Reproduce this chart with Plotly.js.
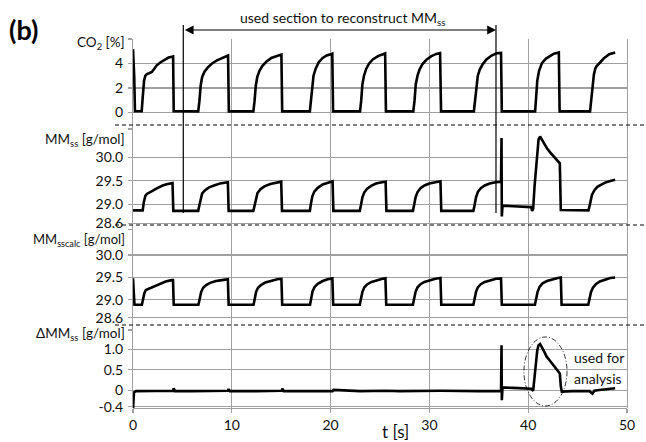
<!DOCTYPE html>
<html>
<head>
<meta charset="utf-8">
<script src="https://cdn.plot.ly/plotly-3.0.1.min.js"></script>
<style>html,body{margin:0;padding:0;background:#fff;}#chart{width:646px;height:442px;}</style>
</head>
<body>
<div id="chart"></div>
<script>
// ---------- data ----------
const xTicks = [0, 10, 20, 30, 40, 50];
const sectionStart = 5.09;
const sectionEnd = 36.74;
const analysisT = [39.57, 43.93];
const analysisY = [-0.38, 1.30];

const t_co2 = [0.0,0.12,0.2,0.88,1.0,1.12,1.25,1.45,1.65,1.9,2.1,2.4,2.8,3.2,3.6,3.95,4.06,4.12,
6.6,6.72,6.85,7.0,7.25,7.6,8.0,8.5,9.0,9.5,9.62,9.7,
12.18,12.3,12.43,12.58,12.8,13.1,13.5,14.0,14.5,14.95,15.02,15.1,
17.9,18.0,18.12,18.27,18.5,18.8,19.2,19.6,20.1,20.17,20.25,
22.98,23.1,23.22,23.38,23.6,23.9,24.3,24.8,25.3,25.52,25.6,
28.37,28.5,28.62,28.8,29.0,29.3,29.7,30.2,30.7,31.08,31.18,
34.5,34.62,34.75,34.9,35.1,35.4,35.8,36.3,36.8,37.25,37.33,
40.7,40.8,40.92,41.1,41.4,41.8,42.2,42.6,43.1,43.18,
46.26,46.38,46.5,46.65,46.8,46.95,47.3,47.7,48.2,48.5,48.8];
const co2 = [5.17,3.0,0.1,0.1,1.4,2.6,3.0,3.15,3.2,3.3,3.5,3.85,4.1,4.3,4.48,4.55,4.57,0.1,
0.08,0.9,2.2,2.9,3.35,3.7,4.0,4.25,4.45,4.62,4.65,0.08,
0.08,0.9,2.2,2.9,3.4,3.8,4.15,4.45,4.62,4.72,4.73,0.08,
0.08,1.0,2.3,3.0,3.6,4.1,4.45,4.65,4.78,4.8,0.08,
0.08,1.0,2.3,3.0,3.55,4.0,4.35,4.6,4.78,4.82,0.08,
0.08,1.0,2.3,3.0,3.5,3.95,4.3,4.6,4.78,4.84,0.08,
0.08,1.0,2.3,3.0,3.5,3.95,4.35,4.65,4.83,4.86,0.08,
0.08,1.2,2.6,3.4,4.05,4.4,4.6,4.8,4.9,0.08,
0.08,1.0,2.3,3.1,3.6,3.8,4.1,4.45,4.75,4.85,4.9];

const t_mm = [0.0,0.98,1.1,1.25,1.4,1.7,2.1,2.5,3.0,3.5,4.0,4.08,
6.6,6.72,6.85,7.0,7.3,7.7,8.2,8.8,9.6,9.68,
12.18,12.3,12.43,12.6,12.9,13.3,13.9,14.5,15.0,15.08,
17.9,18.0,18.15,18.35,18.7,19.2,19.7,20.2,20.28,
22.95,23.08,23.22,23.4,23.7,24.1,24.6,25.2,25.57,25.65,
28.33,28.46,28.6,28.8,29.1,29.5,30.0,30.6,31.12,31.2,
34.45,34.58,34.72,34.9,35.2,35.6,36.1,36.7,37.25,37.3,37.33,37.4,38.5,39.5,40.3,40.4,40.5,40.65,40.85,41.05,41.2,41.35,41.6,41.9,42.2,42.55,42.85,43.05,43.2,43.3,45.0,46.1,46.25,46.45,46.7,47.0,47.4,47.9,48.4,48.8];
const mm = [28.87,28.87,29.05,29.18,29.22,29.25,29.3,29.35,29.4,29.43,29.45,28.86,
28.86,28.98,29.14,29.23,29.3,29.36,29.4,29.44,29.47,28.86,
28.86,28.98,29.14,29.24,29.32,29.38,29.43,29.46,29.48,28.86,
28.86,29.0,29.17,29.27,29.35,29.42,29.46,29.49,28.86,
28.86,28.99,29.15,29.25,29.33,29.39,29.44,29.47,29.48,28.86,
28.86,28.99,29.15,29.26,29.34,29.4,29.44,29.47,29.49,28.86,
28.86,28.99,29.15,29.26,29.34,29.4,29.44,29.47,29.48,30.41,28.74,28.97,28.96,28.95,28.94,28.86,28.9,29.4,30.0,30.38,30.44,30.38,30.28,30.19,30.11,30.03,29.95,29.91,29.87,28.88,28.87,28.87,29.0,29.2,29.3,29.37,29.42,29.47,29.5,29.52];

const t_calc = [0.0,0.08,0.15,0.9,1.02,1.15,1.3,1.6,1.9,2.3,2.8,3.3,3.9,4.05,4.12,
6.62,6.75,6.9,7.1,7.4,7.8,8.4,9.0,9.6,9.68,
12.2,12.32,12.46,12.65,12.95,13.4,14.0,14.6,15.02,15.1,
17.92,18.03,18.17,18.38,18.7,19.2,19.7,20.18,20.26,
22.95,23.08,23.22,23.42,23.72,24.15,24.7,25.25,25.55,25.63,
28.33,28.46,28.6,28.8,29.1,29.5,30.05,30.6,31.12,31.2,
34.45,34.58,34.72,34.9,35.2,35.6,36.15,36.75,37.25,37.33,
40.68,40.8,40.95,41.15,41.45,41.9,42.45,43.0,43.3,43.38,
46.08,46.2,46.35,46.55,46.85,47.25,47.8,48.3,48.8];
const mmcalc = [29.48,29.1,28.89,28.89,29.02,29.15,29.22,29.25,29.27,29.32,29.37,29.41,29.44,29.44,28.89,
28.89,29.02,29.18,29.27,29.33,29.38,29.42,29.44,29.46,28.89,
28.89,29.02,29.18,29.27,29.33,29.39,29.43,29.46,29.47,28.89,
28.89,29.03,29.19,29.29,29.36,29.42,29.46,29.48,28.89,
28.89,29.02,29.18,29.28,29.35,29.4,29.44,29.47,29.48,28.89,
28.89,29.02,29.18,29.28,29.35,29.4,29.44,29.47,29.49,28.89,
28.89,29.02,29.18,29.28,29.35,29.4,29.44,29.47,29.48,28.89,
28.89,29.02,29.18,29.29,29.37,29.42,29.46,29.49,29.5,28.89,
28.89,29.02,29.17,29.27,29.35,29.41,29.46,29.49,29.5];

const t_dmm = [0.0,0.1,0.3,2.0,4.05,4.12,4.25,6.0,9.6,9.68,9.8,12.5,15.05,15.12,15.25,18.0,20.2,20.3,23.0,25.6,27.0,31.15,33.0,35.0,37.25,37.3,37.33,37.4,38.5,40.3,40.5,40.62,40.76,40.92,41.05,41.2,41.5,41.87,42.2,42.54,42.85,43.05,43.2,43.3,43.4,44.5,46.2,46.5,46.7,47.2,47.9,48.8];
const dmm = [-0.45,-0.05,-0.02,-0.02,-0.01,0.05,-0.02,-0.02,-0.01,0.03,-0.02,-0.02,-0.01,0.04,-0.02,-0.02,-0.02,0.01,-0.02,-0.01,-0.02,-0.01,-0.02,-0.02,-0.02,1.1,-0.24,0.07,0.06,0.04,-0.01,0.3,0.66,0.98,1.1,1.13,1.0,0.82,0.72,0.62,0.52,0.45,0.41,0.1,-0.03,-0.02,-0.02,-0.08,-0.01,0.01,0.03,0.05];

// ---------- styling ----------
const FONT = 'Lato, "Open Sans", sans-serif';
const GRID = '#a0a0a0';
const W = 646, H = 442, ML = 133, MR = 19, MT = 39, MB = 34;
const PW = W - ML - MR, PH = H - MT - MB;
const py = p => (H - MB - p) / PH;   // pixel y -> paper
const px = p => (p - ML) / PW;       // pixel x -> paper

const lineStyle = {color: '#000', width: 2.6};
const traces = [
  {x: [], y: [], xaxis: 'x', yaxis: 'y', type: 'scatter', mode: 'lines', hoverinfo: 'skip'},
  {x: t_co2, y: co2, xaxis: 'x2', yaxis: 'y2', type: 'scatter', mode: 'lines', line: lineStyle},
  {x: t_mm, y: mm, xaxis: 'x3', yaxis: 'y3', type: 'scatter', mode: 'lines', line: lineStyle},
  {x: t_calc, y: mmcalc, xaxis: 'x4', yaxis: 'y4', type: 'scatter', mode: 'lines', line: lineStyle},
  {x: t_dmm, y: dmm, xaxis: 'x5', yaxis: 'y5', type: 'scatter', mode: 'lines', line: lineStyle}
];

const hidX = (anchor) => ({domain: [0, 1], range: [0, 50], anchor: anchor, showgrid: false,
  showticklabels: false, zeroline: false, ticks: '', showline: false, fixedrange: true});
const panY = (dom, range, vals, txt) => ({domain: dom, range: range, anchor: null,
  tickvals: vals, ticktext: txt, showgrid: true, gridcolor: GRID, gridwidth: 1.2,
  zeroline: false, showline: false, ticks: 'outside', ticklen: 4, tickcolor: GRID, tickwidth: 1.2,
  tickfont: {family: FONT, size: 14, color: '#111'}, ticklabelstandoff: 2});

const doms = [[py(125), 1], [py(225), py(129)], [py(325), py(229.5)], [0, py(330)]];
const LBL = {family: FONT, size: 13.5, color: '#111'};

const layout = {
  width: W, height: H,
  margin: {l: ML, r: MR, t: MT, b: MB},
  paper_bgcolor: '#fff', plot_bgcolor: 'rgba(0,0,0,0)',
  showlegend: false,
  font: {family: FONT, color: '#111'},
  xaxis: {domain: [0, 1], range: [0, 50], anchor: 'y', tickvals: xTicks, showgrid: true,
    gridcolor: GRID, gridwidth: 1.2, showticklabels: false, ticks: '', zeroline: false, showline: false},
  yaxis: {domain: [0, 1], range: [0, 1], anchor: 'x', showgrid: false, showline: true, mirror: true,
    linecolor: GRID, linewidth: 1.2, showticklabels: false, ticks: '', zeroline: false},
  xaxis2: hidX('y2'), xaxis3: hidX('y3'), xaxis4: hidX('y4'),
  xaxis5: Object.assign(hidX('y5'), {showticklabels: true, tickvals: xTicks, ticks: 'outside',
    ticklen: 4, tickcolor: GRID, tickwidth: 1.2, showline: true, linecolor: GRID, linewidth: 1.2,
    tickfont: {family: FONT, size: 14, color: '#111'}}),
  yaxis2: Object.assign(panY(doms[0], [-1.03, 6], [0, 2, 4, 6], ['0', '2', '4', '']), {anchor: 'x2'}),
  yaxis3: Object.assign(panY(doms[1], [28.56, 30.6], [28.6, 29.0, 29.5, 30.0, 30.6], ['28.6', '29.0', '29.5', '30.0', '']), {anchor: 'x3'}),
  yaxis4: Object.assign(panY(doms[2], [28.44, 30.57], [28.6, 29.0, 29.5, 30.0, 30.57], ['28.6', '29.0', '29.5', '30.0', '']), {anchor: 'x4'}),
  yaxis5: Object.assign(panY(doms[3], [-0.43, 1.47], [-0.4, 0, 0.5, 1.0, 1.47], ['-0.4', '0', '0.5', '1.0', '']), {anchor: 'x5'}),
  shapes: [
    ...['y2', 'y3', 'y4'].map(a => ({type: 'line', xref: 'paper', yref: a + ' domain',
      x0: px(115), x1: px(646), y0: 0, y1: 0, line: {color: '#000', width: 1, dash: '4px,3px'}})),
    ...[sectionStart, sectionEnd].map(v => ({type: 'line', xref: 'x2', yref: 'paper',
      x0: v, x1: v, y0: py(213), y1: py(25), line: {color: '#000', width: 1.2}})),
    {type: 'circle', xref: 'x5', yref: 'y5', x0: analysisT[0], x1: analysisT[1],
      y0: analysisY[0], y1: analysisY[1], line: {color: '#000', width: 0.8, dash: '5px,2px,1px,2px'}}
  ],
  annotations: [
    {text: '<b>(b)</b>', xref: 'paper', yref: 'paper', x: px(7), y: py(30), xanchor: 'left', yanchor: 'middle',
      showarrow: false, font: {family: FONT, size: 27, color: '#000'}},
    {text: '', xref: 'x2', yref: 'paper', x: sectionEnd, y: py(30), axref: 'x2', ax: sectionStart,
      ayref: 'pixel', ay: 0, showarrow: true, arrowside: 'end+start', arrowhead: 2, arrowsize: 1.6,
      arrowwidth: 1.1, arrowcolor: '#000', standoff: 0, startstandoff: 0},
    {text: 'used section to reconstruct MM<sub>ss</sub>', xref: 'paper', yref: 'paper', x: px(343), y: py(18),
      xanchor: 'center', yanchor: 'middle', showarrow: false, font: {family: FONT, size: 14, color: '#111'}},
    {text: 'CO<sub>2</sub> [%]', xref: 'paper', yref: 'paper', x: 0, xshift: -6, y: py(43),
      xanchor: 'right', yanchor: 'middle', showarrow: false, font: LBL},
    {text: 'MM<sub>ss</sub> [g/mol]', xref: 'paper', yref: 'paper', x: 0, xshift: -6, y: py(140),
      xanchor: 'right', yanchor: 'middle', showarrow: false, font: LBL},
    {text: 'MM<sub>sscalc</sub> [g/mol]', xref: 'paper', yref: 'paper', x: 0, xshift: -6, y: py(239.5),
      xanchor: 'right', yanchor: 'middle', showarrow: false, font: {family: FONT, size: 13, color: '#111'}},
    {text: 'ΔMM<sub>ss</sub> [g/mol]', xref: 'paper', yref: 'paper', x: 0, xshift: -6, y: py(334),
      xanchor: 'right', yanchor: 'middle', showarrow: false, font: LBL},
    {text: 't [s]', xref: 'paper', yref: 'paper', x: px(395), y: py(431),
      xanchor: 'center', yanchor: 'middle', showarrow: false, font: {family: FONT, size: 17, color: '#111'}},
    {text: 'used for', xref: 'paper', yref: 'paper', x: px(572), y: py(357),
      xanchor: 'left', yanchor: 'middle', showarrow: false, font: {family: FONT, size: 14, color: '#111'}},
    {text: 'analysis', xref: 'paper', yref: 'paper', x: px(572), y: py(378),
      xanchor: 'left', yanchor: 'middle', showarrow: false, font: {family: FONT, size: 14, color: '#111'}}
  ]
};

Plotly.newPlot('chart', traces, layout, {displayModeBar: false, staticPlot: true});
</script>
</body>
</html>
